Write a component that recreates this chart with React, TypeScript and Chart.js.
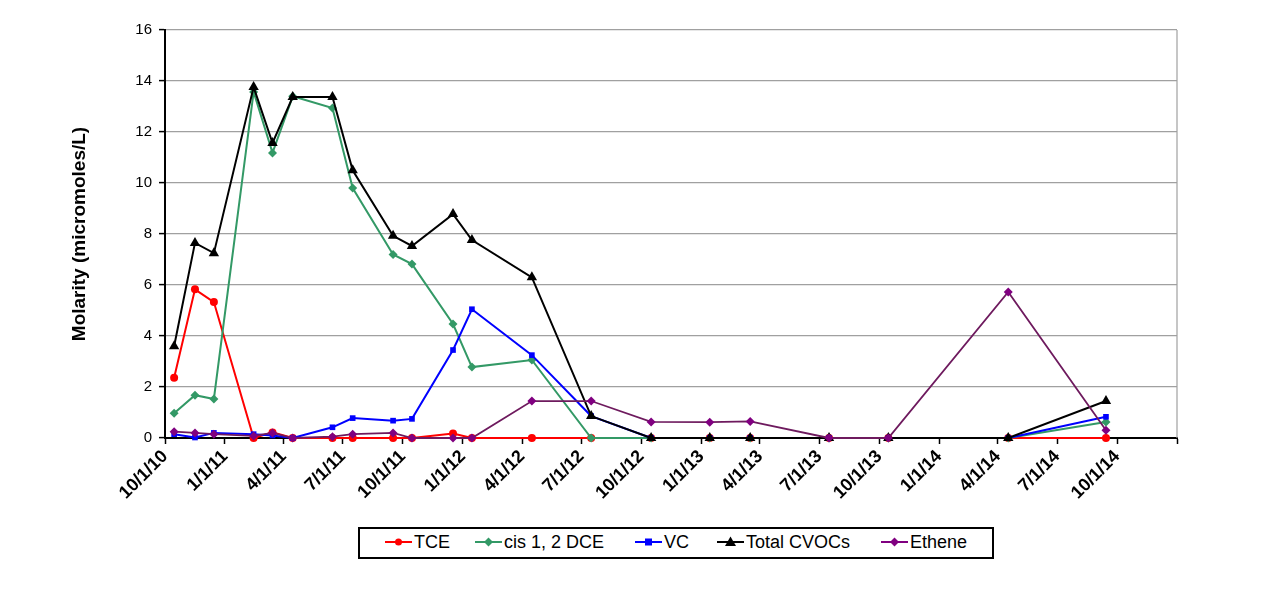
import React, { useEffect, useRef } from "react";
import { Chart, registerables } from "chart.js";

Chart.register(...registerables);

// Sampling dates (x values)
const sampleDates = [
  "2010-10-15", "2010-11-16", "2010-12-15", "2011-02-14", "2011-03-15",
  "2011-04-15", "2011-06-15", "2011-07-16", "2011-09-16", "2011-10-15",
  "2011-12-17", "2012-01-15", "2012-04-16", "2012-07-16", "2012-10-16",
  "2013-01-14", "2013-03-17", "2013-07-16", "2013-10-15", "2014-04-17",
  "2014-09-14",
];

// Series values (micromoles/L)
const tce = [2.36, 5.83, 5.33, 0, 0.22, 0, 0, 0, 0, 0, 0.18, 0, 0, 0, 0, 0, 0, 0, 0, 0, 0];
const cisDce = [0.97, 1.68, 1.53, 13.57, 11.18, 13.4, 12.94, 9.8, 7.2, 6.82, 4.47, 2.78, 3.06, 0, 0, 0, 0, 0, 0, 0, 0.63];
const vc = [0.15, 0.02, 0.2, 0.15, 0.1, 0, 0.42, 0.78, 0.68, 0.75, 3.45, 5.05, 3.25, 0.86, 0, 0, 0, 0, 0, 0, 0.83];
const totalCvocs = [3.6, 7.65, 7.25, 13.76, 11.57, 13.37, 13.37, 10.5, 7.93, 7.53, 8.78, 7.76, 6.3, 0.86, 0, 0, 0, 0, 0, 0, 1.45];
const ethene = [0.25, 0.2, 0.15, 0.08, 0.2, 0, 0.05, 0.15, 0.2, 0, 0, 0, 1.45, 1.45, 0.63, 0.62, 0.65, 0, 0, 5.73, 0.3];

// X-axis ticks
const tickDates = [
  "2010-10-01", "2011-01-01", "2011-04-01", "2011-07-01", "2011-10-01",
  "2012-01-01", "2012-04-01", "2012-07-01", "2012-10-01", "2013-01-01",
  "2013-04-01", "2013-07-01", "2013-10-01", "2014-01-01", "2014-04-01",
  "2014-07-01", "2014-10-01", "2015-01-01",
];
const tickLabels = [
  "10/1/10", "1/1/11", "4/1/11", "7/1/11", "10/1/11", "1/1/12", "4/1/12",
  "7/1/12", "10/1/12", "1/1/13", "4/1/13", "7/1/13", "10/1/13", "1/1/14",
  "4/1/14", "7/1/14", "10/1/14", "",
];

const yTitle = "Molarity (micromoles/L)";

const seriesNames = ["TCE", "cis 1, 2 DCE", "VC", "Total CVOCs", "Ethene"];
const seriesColors = ["#ff0000", "#339966", "#0000ff", "#000000", "#800080"];
const seriesLineColors = ["#ff0000", "#339966", "#0000ff", "#000000", "#6e1a5e"];
const seriesShapes = ["circle", "rectRot", "rect", "triangle", "rectRot"];
const seriesValues = [tce, cisDce, vc, totalCvocs, ethene];

const toDay = (s: string) => {
  const [y, m, d] = s.split("-").map(Number);
  return Date.UTC(y, m - 1, d) / 86400000;
};

const FONT = "Arial, 'Liberation Sans', Helvetica, sans-serif";

const rightBorder = {
  id: "rightBorder",
  beforeDatasetsDraw(chart: any) {
    const { ctx, chartArea } = chart;
    ctx.save();
    ctx.strokeStyle = "#a0a0a0";
    ctx.lineWidth = 1.2;
    ctx.beginPath();
    ctx.moveTo(chartArea.right, chartArea.top);
    ctx.lineTo(chartArea.right, chartArea.bottom);
    ctx.stroke();
    ctx.restore();
  },
};

function Marker({ shape, color }: { shape: string; color: string }) {
  const w = 27;
  const cx = 13.5, cy = 8;
  let m: any = null;
  if (shape === "circle") m = <circle cx={cx} cy={cy} r={3.5} fill={color} />;
  else if (shape === "rectRot") m = <polygon points={`${cx},${cy - 4.5} ${cx + 4.5},${cy} ${cx},${cy + 4.5} ${cx - 4.5},${cy}`} fill={color} />;
  else if (shape === "rect") m = <rect x={cx - 3.5} y={cy - 3.5} width={7} height={7} fill={color} />;
  else m = <polygon points={`${cx},${cy - 5.5} ${cx + 5.5},${cy + 4} ${cx - 5.5},${cy + 4}`} fill={color} />;
  return (
    <svg width={w} height={16} style={{ display: "block" }}>
      <line x1={0} y1={cy} x2={w} y2={cy} stroke={color} strokeWidth={2} />
      {m}
    </svg>
  );
}

const legendX = [385, 475, 635, 717, 881];

export default function App() {
  const canvasRef = useRef<HTMLCanvasElement | null>(null);

  useEffect(() => {
    const canvas = canvasRef.current;
    if (!canvas) return;
    const xs = sampleDates.map(toDay);
    const chart = new Chart(canvas, {
      type: "line",
      data: {
        datasets: seriesNames.map((name, i) => ({
          label: name,
          data: seriesValues[i].map((v, j) => ({ x: xs[j], y: v })),
          borderColor: seriesLineColors[i],
          backgroundColor: seriesColors[i],
          pointBackgroundColor: seriesColors[i],
          pointBorderColor: seriesColors[i],
          pointStyle: seriesShapes[i] as any,
          pointRadius: i === 3 ? 6 : i === 1 || i === 4 ? 4.5 : 4,
          pointBorderWidth: 0,
          borderWidth: i === 4 ? 1.8 : 2,
          tension: 0,
          fill: false,
          clip: false as any,
          order: 4 - i,
        })),
      },
      options: {
        animation: false,
        responsive: false,
        maintainAspectRatio: false,
        layout: { padding: { left: 68, top: 30, right: 103, bottom: 73 } },
        plugins: {
          legend: { display: false },
          tooltip: { enabled: false },
        },
        scales: {
          x: {
            type: "linear",
            min: toDay(tickDates[0]),
            max: toDay(tickDates[tickDates.length - 1]),
            afterBuildTicks: (scale: any) => {
              scale.ticks = tickDates.map((d) => ({ value: toDay(d) }));
            },
            afterFit: (scale: any) => {
              scale.height = 80;
            },
            ticks: {
              autoSkip: false,
              maxRotation: 45,
              minRotation: 45,
              color: "#000",
              padding: 2,
              font: { family: FONT, size: 18, weight: "bold" },
              callback: (_v: any, i: number) => tickLabels[i] ?? "",
            },
            grid: {
              drawOnChartArea: false,
              drawTicks: true,
              tickColor: "#000",
              tickLength: 6,
              tickWidth: 1.5,
            },
            border: { color: "#000", width: 2 },
          },
          y: {
            min: 0,
            max: 16,
            afterFit: (scale: any) => {
              scale.width = 97;
            },
            ticks: {
              stepSize: 2,
              color: "#000",
              padding: 7,
              font: { family: FONT, size: 15 },
            },
            grid: {
              color: "#a0a0a0",
              lineWidth: 1.2,
              tickColor: "#000",
              tickLength: 6,
              tickWidth: 1.5,
            },
            border: { color: "#000", width: 2 },
            title: {
              display: true,
              text: yTitle,
              color: "#000",
              padding: { top: 0, bottom: 0 },
              font: { family: FONT, size: 19, weight: "bold" },
            },
          },
        },
      },
      plugins: [rightBorder],
    });
    return () => chart.destroy();
  }, []);

  return (
    <div style={{ position: "fixed", left: 0, top: 0, width: 1280, height: 591, background: "#fff" }}>
      <canvas ref={canvasRef} width={1280} height={591} style={{ position: "absolute", left: 0, top: 0 }} />
      <div
        style={{
          position: "absolute",
          left: 358,
          top: 527,
          width: 632,
          height: 28,
          border: "2px solid #000",
          background: "#fff",
        }}
      />
      {seriesNames.map((name, i) => (
        <div
          key={name}
          style={{
            position: "absolute",
            left: legendX[i],
            top: 530,
            height: 24,
            display: "flex",
            alignItems: "center",
            fontFamily: FONT,
            fontSize: 18,
            color: "#000",
            whiteSpace: "nowrap",
          }}
        >
          <Marker shape={seriesShapes[i]} color={seriesColors[i]} />
          <span style={{ marginLeft: 2 }}>{name}</span>
        </div>
      ))}
    </div>
  );
}
